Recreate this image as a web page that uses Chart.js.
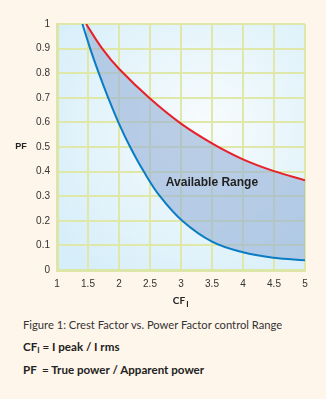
<!DOCTYPE html>
<html>
<head>
<meta charset="utf-8">
<script src="https://cdn.jsdelivr.net/npm/chart.js@4"></script>
<style>
  body { margin: 0; background: #fff6eb; width: 326px; height: 399px; overflow: hidden; position: relative; }
  #wrap { position: absolute; left: 0; top: 0; width: 326px; height: 312px; }
  .cap { position: absolute; left: 23px; font-family: Lato, "Open Sans", sans-serif; color: #333; font-size: 11.2px; white-space: nowrap; }
  .b { font-weight: bold; color: #222; font-size: 11.6px; }
  sub { font-size: 8px; vertical-align: -2px; }
</style>
</head>
<body>
<div id="wrap"><canvas id="chart"></canvas></div>
<div class="cap" style="top:318px">Figure 1: Crest Factor vs. Power Factor control Range</div>
<div class="cap b" style="top:340px">CF<sub>I</sub> = I peak / I rms</div>
<div class="cap b" style="top:363px">PF&nbsp; = True power / Apparent power</div>
<script>
// crest factor (x) vs power factor (y)
const cfUpper = [1.47, 1.73, 2.0, 2.5, 3.0, 3.5, 4.0, 4.5, 5.0];
const pfUpper = [1.0, 0.9, 0.818, 0.697, 0.595, 0.515, 0.45, 0.402, 0.365];
const cfLower = [1.41, 1.535, 1.674, 1.826, 1.99, 2.18, 2.40, 2.66, 3.02, 3.5, 4.0, 4.5, 5.0];
const pfLower = [1.0, 0.9, 0.8, 0.7, 0.6, 0.5, 0.4, 0.3, 0.2, 0.115, 0.072, 0.05, 0.04];
const xTicks = [1, 1.5, 2, 2.5, 3, 3.5, 4, 4.5, 5];
const yTicks = [0, 0.1, 0.2, 0.3, 0.4, 0.5, 0.6, 0.7, 0.8, 0.9, 1];
const rangeLabel = { text: 'Available Range', cf: 3.5, pf: 0.354 };

const toPoints = (xs, ys) => xs.map((x, i) => ({ x: x, y: ys[i] }));

const decor = {
  id: 'decor',
  beforeDraw(chart) {
    const { ctx, chartArea: a } = chart;
    const g = ctx.createRadialGradient(a.left + a.width * 0.6, a.top + a.height * 0.42, 10,
      a.left + a.width * 0.6, a.top + a.height * 0.42, a.width * 0.75);
    g.addColorStop(0, '#f6fbfd');
    g.addColorStop(1, '#d6eef9');
    ctx.save();
    ctx.fillStyle = g;
    ctx.fillRect(a.left, a.top, a.width, a.height);
    ctx.restore();
  },
  afterDraw(chart) {
    const { ctx, scales: { x, y } } = chart;
    ctx.save();
    ctx.fillStyle = '#222';
    ctx.textBaseline = 'middle';
    ctx.textAlign = 'center';
    ctx.font = 'bold 12px "Liberation Sans", Arial, sans-serif';
    ctx.fillText(rangeLabel.text, x.getPixelForValue(rangeLabel.cf), y.getPixelForValue(rangeLabel.pf));
    // y title
    ctx.font = 'bold 9px "Liberation Sans", Arial, sans-serif';
    ctx.fillText('PF', 21, y.getPixelForValue(0.5));
    // x title with subscript
    const cx = (x.left + x.right) / 2;
    const ty = y.bottom + 31;
    ctx.textAlign = 'left';
    ctx.font = 'bold 10px Lato, "Liberation Sans", sans-serif';
    const w = ctx.measureText('CF').width;
    ctx.fillText('CF', cx - w / 2 - 2, ty);
    ctx.font = 'bold 8px Lato, "Liberation Sans", sans-serif';
    ctx.fillText('I', cx + w / 2 - 1, ty + 3);
    ctx.restore();
  }
};

const tickFont = { family: '"Liberation Sans", Arial', size: 10 };
const fmt = v => String(Math.round(v * 10) / 10);

new Chart(document.getElementById('chart'), {
  type: 'scatter',
  data: {
    datasets: [{
      label: 'upper',
      data: toPoints(cfUpper, pfUpper),
      showLine: true,
      borderColor: '#e8202a',
      borderWidth: 2,
      pointRadius: 0,
      tension: 0.4,
      fill: false
    }, {
      label: 'lower',
      data: toPoints(cfLower, pfLower),
      showLine: true,
      borderColor: '#0a7cc4',
      borderWidth: 2,
      pointRadius: 0,
      tension: 0.4,
      fill: '-1',
      backgroundColor: 'rgba(150,178,216,0.62)'
    }]
  },
  options: {
    responsive: true,
    maintainAspectRatio: false,
    animation: false,
    layout: { padding: { top: 24, right: 21, left: 0, bottom: 0 } },
    plugins: { legend: { display: false }, tooltip: { enabled: false } },
    scales: {
      x: {
        type: 'linear', min: 1, max: 5,
        afterBuildTicks: s => { s.ticks = xTicks.map(v => ({ value: v })); },
        afterFit: s => { s.height = 42; },
        grid: { color: '#dfe8a8', lineWidth: 2, drawTicks: false },
        border: { color: '#dce6a6', width: 3 },
        ticks: { padding: 8, color: '#333', font: tickFont, callback: fmt }
      },
      y: {
        min: 0, max: 1,
        afterBuildTicks: s => { s.ticks = yTicks.map(v => ({ value: v })); },
        afterFit: s => { s.width = 57; },
        grid: { color: '#dfe8a8', lineWidth: 2, drawTicks: false },
        border: { color: '#dce6a6', width: 3 },
        ticks: { padding: 7, color: '#333', font: tickFont, callback: fmt }
      }
    }
  },
  plugins: [decor]
});
</script>
</body>
</html>
